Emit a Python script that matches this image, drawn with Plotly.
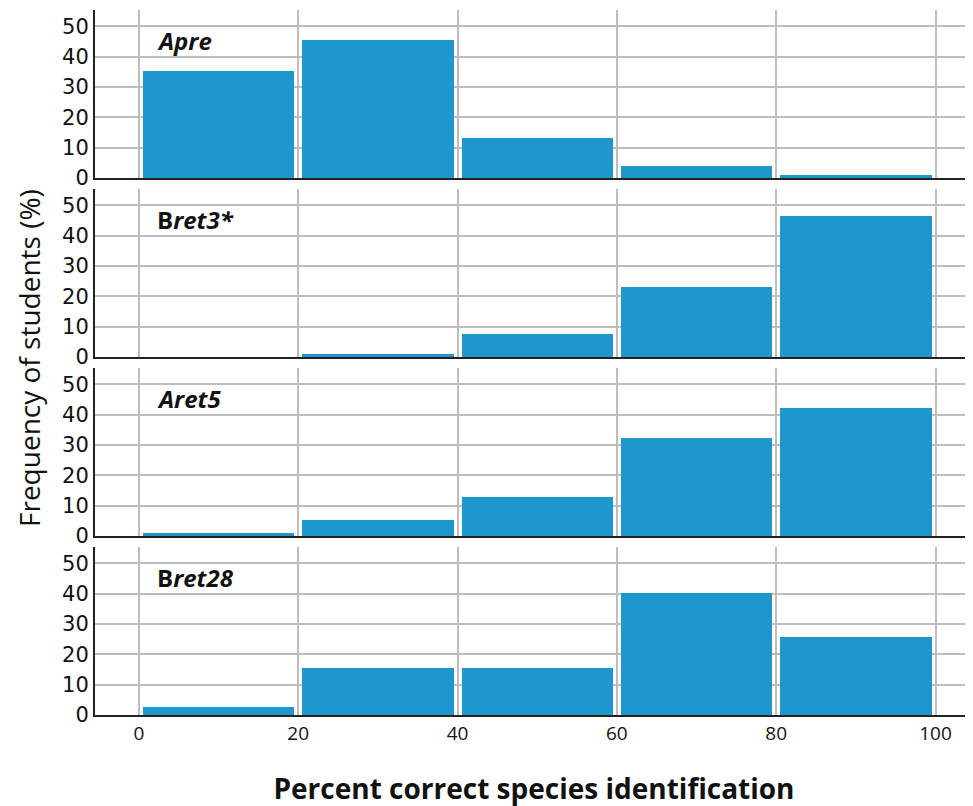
import plotly.graph_objects as go
from plotly.subplots import make_subplots

bin_centers = [10, 30, 50, 70, 90]
panel_labels = ["<b><i>Apre</i></b>", "<b>B<i>ret3*</i></b>", "<b><i>Aret5</i></b>", "<b>B<i>ret28</i></b>"]
apre = [35.2, 45.6, 13.3, 4.0, 1.0]
bret3 = [0.0, 0.9, 7.6, 23.1, 46.5]
aret5 = [0.9, 5.2, 13.0, 32.4, 42.2]
bret28 = [2.7, 15.6, 15.6, 40.1, 25.6]
x_ticks = [0, 20, 40, 60, 80, 100]
y_ticks = [0, 10, 20, 30, 40, 50]

series = [apre, bret3, aret5, bret28]

# page body has an 8px margin; compensate so the plot lands where the reference has it
OFF = 8
L, T, PH = 95 - OFF, 10 - OFF, 705
W, H = 973, 806
B = H - T - PH

fig = make_subplots(rows=4, cols=1, shared_xaxes=True, vertical_spacing=11 / 705)

for i, vals in enumerate(series):
    fig.add_trace(
        go.Bar(
            x=bin_centers, y=vals, width=19,
            marker=dict(color="#1f96cd", line=dict(width=0)),
            showlegend=False, hoverinfo="skip",
        ),
        row=i + 1, col=1,
    )
    fig.add_annotation(
        x=2, y=45.5, xref=f"x{i+1 if i else ''}", yref=f"y{i+1 if i else ''}",
        text=panel_labels[i], showarrow=False, xanchor="left", yanchor="middle",
        font=dict(family="Open Sans, sans-serif", size=24, color="#111"),
    )
    fig.update_yaxes(
        range=[0, 55.4], tickvals=y_ticks, showgrid=True, gridcolor="#bdbdbd", gridwidth=1.5,
        showline=True, linecolor="#222", linewidth=2, ticks="", zeroline=False,
        automargin=False,
        tickfont=dict(family="DejaVu Sans, sans-serif", size=21, color="#111"),
        row=i + 1, col=1,
    )
    fig.update_xaxes(
        range=[-5.5, 104.7], tickvals=x_ticks, showgrid=True, gridcolor="#bdbdbd", gridwidth=1.5,
        showline=True, linecolor="#222", linewidth=2, ticks="", zeroline=False,
        showticklabels=(i == 3), automargin=False,
        tickfont=dict(family="Open Sans, sans-serif", size=19, color="#111"),
        row=i + 1, col=1,
    )

fig.update_xaxes(
    title=dict(text="<b>Percent correct species identification</b>", standoff=35,
               font=dict(family="Open Sans, sans-serif", size=28, color="#111")),
    row=4, col=1,
)

fig.add_annotation(
    x=(29 - 95) / 878, y=(806 - 91 - 358) / 705, xref="paper", yref="paper",
    text="Frequency of students (%)", borderpad=0,
    showarrow=False, textangle=-90, xanchor="center", yanchor="middle",
    font=dict(family="Open Sans, sans-serif", size=28, color="#111"),
)

fig.update_layout(
    width=W, height=H,
    margin=dict(l=L, r=W - L - 878, t=T, b=B),
    plot_bgcolor="white", paper_bgcolor="white",
    bargap=0,
)

fig.write_html("out.html")
